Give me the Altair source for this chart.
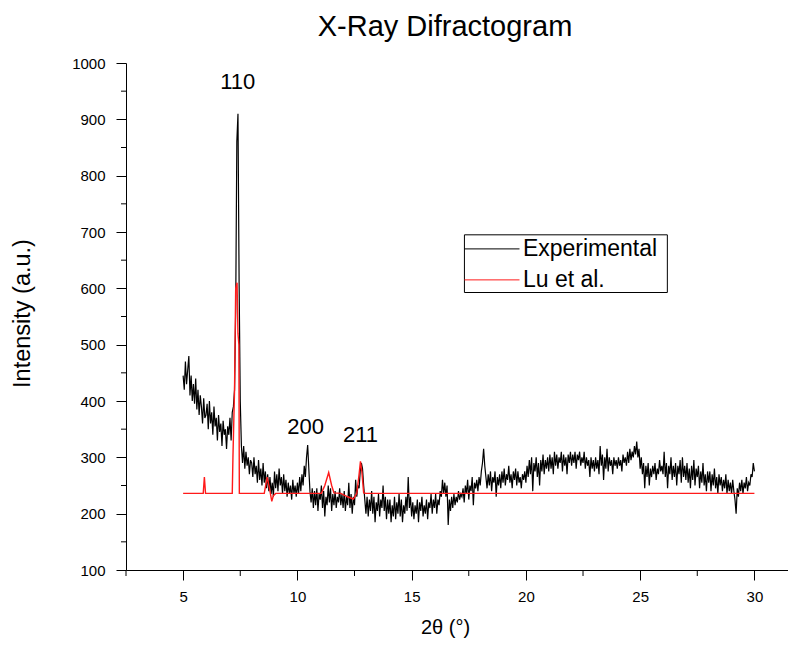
import altair as alt
import pandas as pd
import numpy as np

TITLE = "X-Ray Difractogram"
X_TITLE = "2θ (°)"
Y_TITLE = "Intensity (a.u.)"
FONT = "Liberation Sans"

EXP_START = 5.0
EXP_STEP = 0.05
exp_rows = [
    [445, 420, 470, 430, 455, 480, 410, 445, 400, 430, 395, 440, 385, 420, 375, 410, 390, 360, 405, 370],  # 5
    [375, 395, 350, 400, 360, 380, 340, 390, 355, 370, 330, 375, 345, 360, 320, 365, 340, 350, 315, 355],  # 6
    [340, 370, 330, 380, 390, 420, 560, 860, 910, 610, 400, 320, 290, 320, 280, 310, 285, 300, 270, 295],  # 7
    [290, 265, 300, 270, 285, 255, 295, 260, 280, 250, 290, 255, 275, 245, 270, 240, 265, 235, 255, 230],  # 8
    [275, 245, 270, 240, 280, 250, 265, 235, 270, 240, 260, 230, 255, 235, 250, 225, 260, 235, 250, 230],  # 9
    [255, 235, 265, 240, 270, 250, 285, 265, 300, 322, 280, 240, 220, 245, 210, 240, 215, 245, 205, 235],  # 10
    [225, 250, 210, 240, 195, 230, 215, 250, 220, 245, 205, 235, 215, 240, 210, 230, 220, 245, 215, 235],  # 11
    [210, 240, 205, 230, 215, 255, 210, 235, 200, 230, 215, 260, 230, 250, 245, 275, 290, 280, 250, 225],  # 12
    [200, 230, 195, 225, 205, 240, 200, 230, 185, 220, 205, 235, 195, 225, 210, 250, 205, 230, 190, 225],  # 13
    [200, 225, 185, 215, 195, 230, 190, 220, 200, 235, 195, 225, 185, 215, 200, 230, 205, 265, 210, 230],  # 14
    [195, 220, 190, 215, 200, 225, 185, 220, 205, 230, 195, 215, 200, 225, 190, 220, 210, 235, 200, 225],  # 15
    [210, 235, 200, 225, 215, 240, 230, 260, 235, 255, 230, 250, 180, 225, 205, 230, 210, 235, 215, 230],  # 16
    [220, 240, 225, 235, 230, 245, 220, 250, 235, 260, 225, 250, 240, 265, 215, 255, 245, 260, 240, 265],  # 17
    [250, 275, 290, 315, 285, 265, 245, 270, 250, 275, 240, 265, 255, 275, 230, 265, 250, 270, 245, 275],  # 18
    [255, 280, 250, 270, 260, 285, 255, 270, 245, 275, 260, 280, 250, 275, 255, 265, 245, 270, 260, 275],  # 19
    [255, 285, 265, 295, 270, 300, 240, 290, 275, 300, 265, 290, 250, 295, 275, 305, 270, 295, 280, 300],  # 20
    [275, 305, 280, 300, 270, 310, 285, 305, 280, 300, 290, 310, 275, 305, 285, 300, 270, 305, 290, 310],  # 21
    [285, 305, 290, 310, 280, 305, 295, 310, 285, 300, 290, 310, 280, 300, 285, 295, 265, 300, 280, 295],  # 22
    [275, 300, 280, 295, 270, 320, 285, 305, 260, 300, 280, 315, 275, 300, 285, 295, 270, 300, 285, 295],  # 23
    [280, 300, 285, 295, 275, 305, 290, 300, 285, 310, 290, 315, 295, 310, 300, 320, 305, 328, 300, 315],  # 24
    [280, 300, 270, 290, 245, 285, 265, 290, 250, 280, 265, 285, 270, 290, 260, 280, 270, 295, 275, 285],  # 25
    [270, 310, 265, 290, 245, 285, 270, 300, 260, 285, 265, 290, 250, 285, 270, 295, 255, 300, 265, 285],  # 26
    [260, 290, 255, 280, 245, 285, 260, 295, 250, 280, 265, 285, 245, 275, 255, 290, 250, 270, 240, 275],  # 27
    [255, 275, 240, 270, 250, 280, 245, 265, 235, 270, 250, 265, 240, 260, 245, 270, 235, 260, 240, 255],  # 28
    [235, 260, 240, 225, 200, 245, 230, 255, 240, 260, 235, 255, 245, 265, 240, 255, 250, 270, 265, 290],  # 29
    [275],                                                                                                  # 30
]
exp_y = [v for row in exp_rows for v in row]

# Reference pattern (Lu et al.)
red_x = [5.0, 5.88, 5.93, 5.98, 7.15, 7.18, 7.25, 7.30, 7.36, 7.40, 7.44, 7.46,
         8.55, 8.68, 8.80, 8.88, 8.95, 9.05, 11.05, 11.20, 11.37, 11.50, 11.60,
         11.90, 12.20, 12.45, 12.60, 12.70, 12.76, 12.82, 12.90, 13.00, 30.0]
red_y = [236, 236, 265, 236, 236, 300, 420, 600, 610, 520, 500, 236,
         236, 265, 240, 222, 232, 236, 236, 250, 273, 250, 237,
         236, 230, 226, 236, 270, 293, 275, 237, 236, 236]

series_names = ["Experimental", "Lu et al."]
series_colors = ["black", "#ff1a1a"]

peak_labels = ["110", "200", "211"]
peak_x = [7.39, 10.36, 12.76]
peak_y = [967, 353, 340]

x_ticks = [5, 10, 15, 20, 25, 30]
x_minor = [2.5, 7.5, 12.5, 17.5, 22.5, 27.5]
y_ticks = [100, 200, 300, 400, 500, 600, 700, 800, 900, 1000]
y_minor = [150, 250, 350, 450, 550, 650, 750, 850, 950]

X_DOMAIN = [2.5, 31.47]
Y_DOMAIN = [100, 1000]
W, H = 662, 507

# legend box (data coordinates)
LEG_X0, LEG_X1, LEG_XS = 17.31, 26.19, 19.72
LEG_Y0, LEG_Y1 = 592.6, 695
LEG_ROWS = [670, 615]

exp_x = np.round(EXP_START + EXP_STEP * np.arange(len(exp_y)), 2)
df_exp = pd.DataFrame({"x": exp_x, "y": exp_y})
df_red = pd.DataFrame({"x": red_x, "y": red_y})

xs = alt.Scale(domain=X_DOMAIN, nice=False, zero=False)
ys = alt.Scale(domain=Y_DOMAIN, nice=False, zero=False)

x_axis = alt.Axis(values=x_ticks, title=X_TITLE, grid=False, domainColor="black",
                  tickColor="black", tickSize=10, labelFont=FONT, labelFontSize=15,
                  labelColor="black", labelPadding=9, titleFont=FONT, titleFontSize=20,
                  titleFontWeight="normal", titleColor="black", titleX=319, titleY=57,
                  titleBaseline="middle", labelFlush=False, format="d")
y_axis = alt.Axis(values=y_ticks, title=Y_TITLE, grid=False, domainColor="black",
                  tickColor="black", tickSize=10, labelFont=FONT, labelFontSize=15,
                  labelColor="black", labelPadding=11, titleFont=FONT, titleFontSize=23.5,
                  titleFontWeight="normal", titleColor="black", titleX=-104, titleY=250,
                  titleBaseline="middle", titleAlign="center", labelFlush=False, format="d")

exp_line = alt.Chart(df_exp).mark_line(color=series_colors[0], strokeWidth=1.2).encode(
    x=alt.X("x:Q", scale=xs, axis=x_axis),
    y=alt.Y("y:Q", scale=ys, axis=y_axis),
)
red_line = alt.Chart(df_red).mark_line(color=series_colors[1], strokeWidth=1.4).encode(
    x="x:Q", y="y:Q"
)

xminor = alt.Chart(pd.DataFrame({"x": x_minor})).mark_rule(color="black").encode(
    x="x:Q", y=alt.value(H), y2=alt.value(H + 6)
)
yminor = alt.Chart(pd.DataFrame({"y": y_minor})).mark_rule(color="black").encode(
    y="y:Q", x=alt.value(0), x2=alt.value(-5)
)

peaks = alt.Chart(pd.DataFrame({"x": peak_x, "y": peak_y, "t": peak_labels})).mark_text(
    font=FONT, fontSize=22, color="black", baseline="middle", align="center"
).encode(x="x:Q", y="y:Q", text="t:N")

leg_box = alt.Chart(pd.DataFrame({"x": [LEG_X0], "x2": [LEG_X1], "y": [LEG_Y0], "y2": [LEG_Y1]})).mark_rect(
    fill="white", stroke="black", strokeWidth=1
).encode(x="x:Q", x2="x2:Q", y="y:Q", y2="y2:Q")

df_leg = pd.DataFrame({"x": [LEG_X0] * 2, "x2": [LEG_XS] * 2, "y": LEG_ROWS,
                       "name": series_names, "tx": [LEG_XS + 0.15] * 2})
leg_lines = alt.Chart(df_leg).mark_rule(strokeWidth=1).encode(
    x="x:Q", x2="x2:Q", y="y:Q",
    color=alt.Color("name:N", scale=alt.Scale(domain=series_names, range=series_colors), legend=None),
)
leg_text = alt.Chart(df_leg).mark_text(font=FONT, fontSize=23, color="black",
                                       align="left", baseline="middle").encode(
    x="tx:Q", y="y:Q", text="name:N"
)

chart = alt.layer(exp_line, red_line, xminor, yminor, peaks, leg_box, leg_lines, leg_text).properties(
    width=W, height=H,
    title=alt.TitleParams(TITLE, font=FONT, fontSize=29, fontWeight="normal", color="black",
                          anchor="middle", frame="group", dx=-12, dy=27, offset=18, baseline="alphabetic"),
    autosize=alt.AutoSizeParams(type="none"),
    padding={"left": 118, "top": 55, "right": 0, "bottom": 68},
).configure_view(stroke=None).configure_axis(domainWidth=1, tickWidth=1)

chart.save("out.html", embed_options={"renderer": "svg", "actions": False})
